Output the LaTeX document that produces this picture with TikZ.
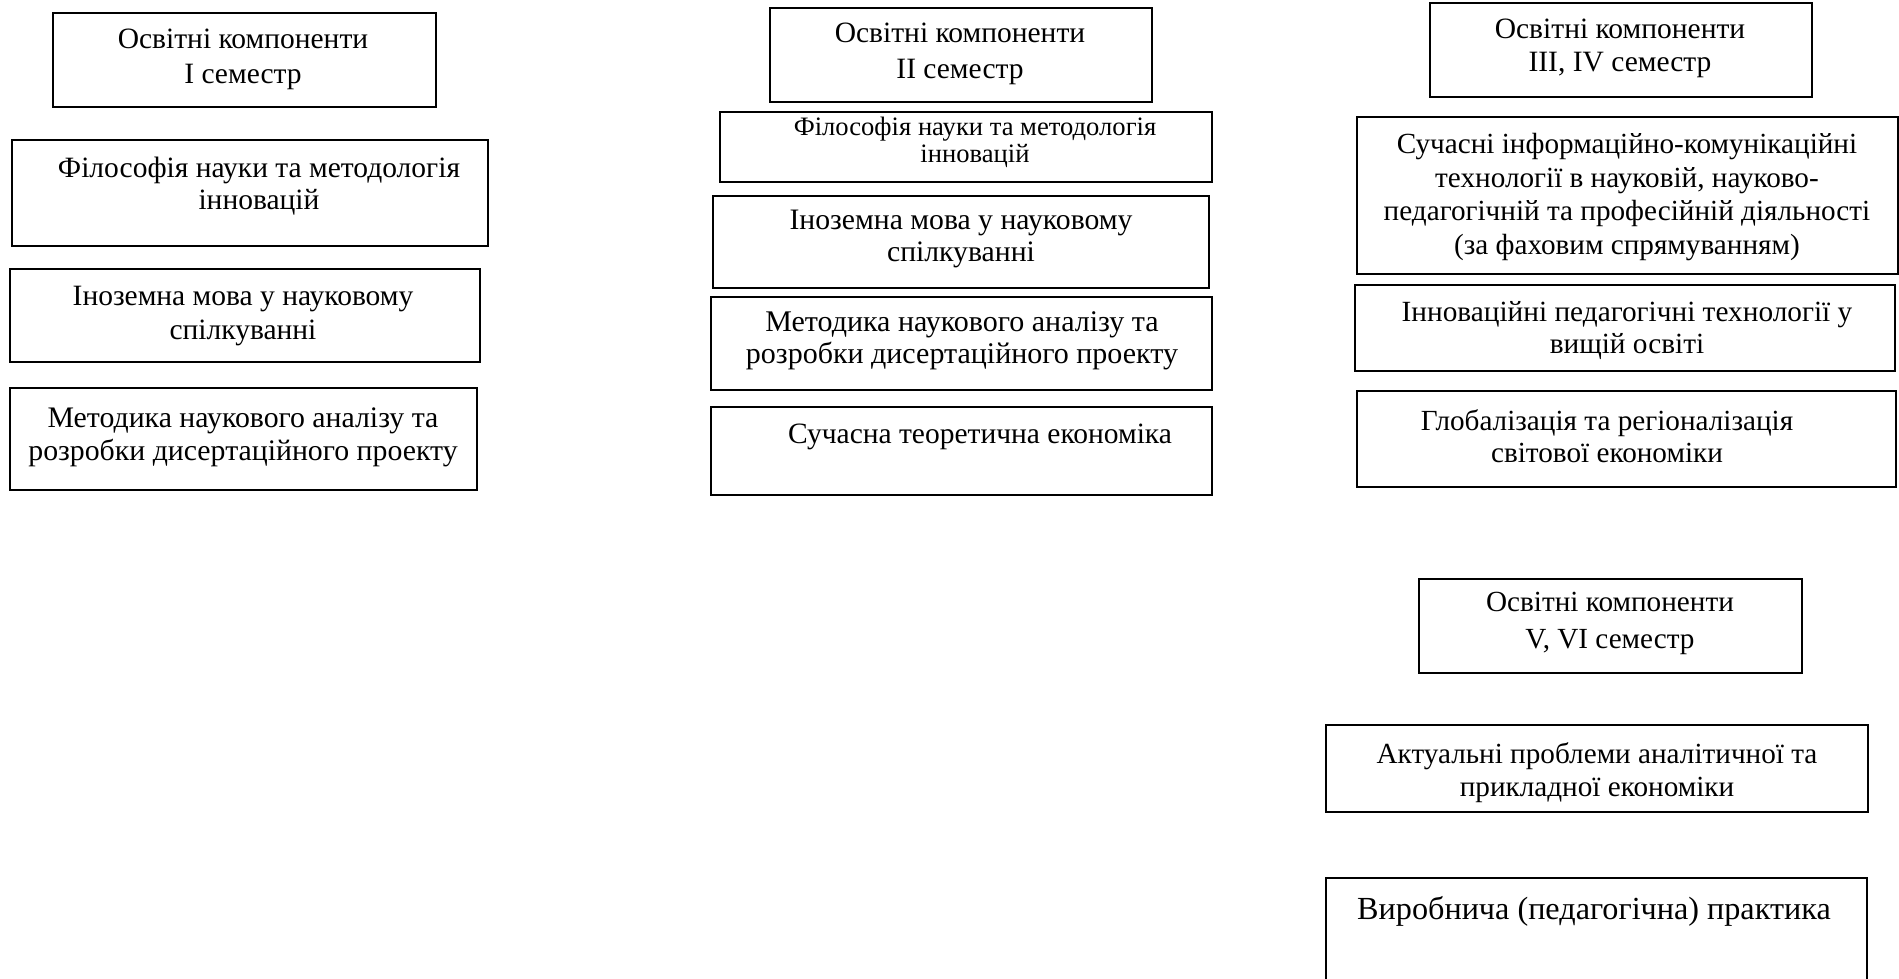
\documentclass[tikz,border=0pt]{standalone}
\usepackage{fontspec}
\setmainfont{Liberation Serif}
\usetikzlibrary{fit}
\begin{document}
\begin{tikzpicture}[x=1pt,y=-1pt,
  bx/.style={draw=black, line width=1.6pt, inner sep=0pt, outer sep=0pt},
  txt/.style={align=center, inner sep=0pt, outer sep=0pt, font=\fontsize{29.5}{33}\selectfont}]
\useasboundingbox (0,0) rectangle (1899,979);
\clip (0,0) rectangle (1899,979);
% column I
\node[bx, fit={(53,13) (436,107)}] (a1) {};
\node[txt, font=\fontsize{29.5}{35}\selectfont] (a1t) at (243,59.5) {Освітні компоненти\\I семестр};
\node[bx, fit={(12,140) (488,246)}] (a2) {};
\node[txt, font=\fontsize{29.5}{32}\selectfont] (a2t) at (259,186) {Філософія науки та методологія\\інновацій};
\node[bx, fit={(10,269) (480,362)}] (a3) {};
\node[txt, font=\fontsize{29.5}{34}\selectfont] (a3t) at (243,316) {Іноземна мова у науковому\\спілкуванні};
\node[bx, fit={(10,388) (477,490)}] (a4) {};
\node[txt, font=\fontsize{29.8}{33}\selectfont] (a4t) at (243,437) {Методика наукового аналізу та\\розробки дисертаційного проекту};
% column II
\node[bx, fit={(770,8) (1152,102)}] (b1) {};
\node[txt, font=\fontsize{29.5}{36}\selectfont] (b1t) at (960,54) {Освітні компоненти\\II семестр};
\node[bx, fit={(720,112) (1212,182)}] (b2) {};
\node[txt, font=\fontsize{26.6}{27}\selectfont] (b2t) at (975,142) {Філософія науки та методологія\\інновацій};
\node[bx, fit={(713,196) (1209,288)}] (b3) {};
\node[txt, font=\fontsize{29.7}{32}\selectfont] (b3t) at (961,239) {Іноземна мова у науковому\\спілкуванні};
\node[bx, fit={(711,297) (1212,390)}] (b4) {};
\node[txt, font=\fontsize{30}{32}\selectfont] (b4t) at (962,341) {Методика наукового аналізу та\\розробки дисертаційного проекту};
\node[bx, fit={(711,407) (1212,495)}] (b5) {};
\node[txt] (b5t) at (980,437) {Сучасна теоретична економіка};
% column III, IV
\node[bx, fit={(1430,3) (1812,97)}] (c1) {};
\node[txt] (c1t) at (1620,48.5) {Освітні компоненти\\III, IV семестр};
\node[bx, fit={(1357,117) (1898,274)}] (c2) {};
\node[txt, font=\fontsize{29.2}{33.5}\selectfont] (c2t) at (1627,197) {Сучасні інформаційно-комунікаційні\\технології в науковій, науково-\\педагогічній та професійній діяльності\\(за фаховим спрямуванням)};
\node[bx, fit={(1355,285) (1895,371)}] (c3) {};
\node[txt, font=\fontsize{29.3}{32}\selectfont] (c3t) at (1627,331) {Інноваційні педагогічні технології у\\вищій освіті};
\node[bx, fit={(1357,391) (1896,487)}] (c4) {};
\node[txt, font=\fontsize{29.2}{32}\selectfont] (c4t) at (1607,436) {Глобалізація та регіоналізація\\світової економіки};
% column V, VI
\node[bx, fit={(1419,579) (1802,673)}] (d1) {};
\node[txt, font=\fontsize{29.2}{37}\selectfont] (d1t) at (1610,623) {Освітні компоненти\\V, VI семестр};
\node[bx, fit={(1326,725) (1868,812)}] (d2) {};
\node[txt, font=\fontsize{29.2}{33}\selectfont] (d2t) at (1597,773) {Актуальні проблеми аналітичної та\\прикладної економіки};
\node[bx, fit={(1326,878) (1867,1000)}] (d3) {};
\node[txt, font=\fontsize{32.2}{36}\selectfont] (d3t) at (1594,911) {Виробнича (педагогічна) практика};
\end{tikzpicture}
\end{document}
